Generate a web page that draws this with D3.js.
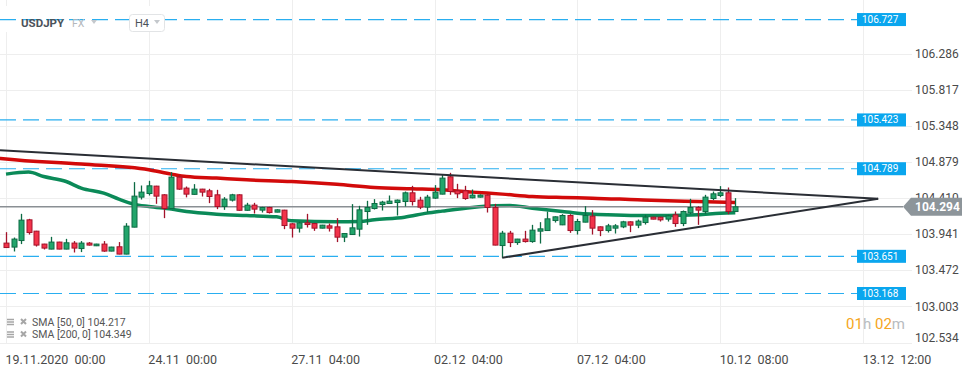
<!DOCTYPE html>
<html>
<head>
<meta charset="utf-8">
<script src="https://cdn.jsdelivr.net/npm/d3@7"></script>
<style>
  body { margin: 0; background: #fff; }
  svg { display: block; font-family: Roboto, "Noto Sans", sans-serif; }
</style>
</head>
<body>
<div id="chart"></div>
<script>
// USDJPY H4 candles, 19.11.2020 -> 10.12.2020
var opens = [
  103.823,103.771,103.856,104.125,103.978,103.810,103.745,103.836,103.745,103.823,
  103.752,103.823,103.788,103.810,103.719,103.775,103.680,104.030,104.420,104.467,
  104.563,104.450,104.272,104.680,104.537,104.456,104.524,104.502,104.450,104.298,
  104.381,104.450,104.249,104.316,104.251,104.285,104.225,104.251,104.073,104.017,
  104.086,104.077,104.017,104.047,104.034,103.900,103.934,104.004,104.233,104.272,
  104.324,104.337,104.350,104.363,104.476,104.381,104.290,104.407,104.459,104.684,
  104.502,104.502,104.411,104.420,104.446,104.285,103.791,103.952,103.830,103.875,
  103.843,103.978,103.986,104.116,104.060,104.181,103.986,104.095,104.173,104.034,
  103.986,104.017,104.034,104.099,104.056,104.090,104.160,104.160,104.134,104.190,
  104.077,104.216,104.285,104.233,104.402,104.441,104.476,104.233];
var highs = [
  103.965,103.895,104.203,104.138,103.982,103.814,103.904,103.840,103.878,103.849,
  103.849,103.836,103.814,103.849,103.775,103.836,104.082,104.615,104.571,104.632,
  104.567,104.459,104.745,104.710,104.558,104.589,104.528,104.528,104.515,104.420,
  104.463,104.456,104.346,104.346,104.294,104.294,104.262,104.255,104.082,104.099,
  104.203,104.086,104.060,104.077,104.147,103.952,104.329,104.307,104.372,104.394,
  104.372,104.441,104.389,104.493,104.567,104.424,104.450,104.576,104.714,104.736,
  104.593,104.567,104.519,104.456,104.456,104.333,103.982,103.982,103.878,103.982,
  104.060,104.095,104.233,104.171,104.199,104.199,104.138,104.303,104.251,104.040,
  104.073,104.069,104.112,104.106,104.129,104.190,104.164,104.164,104.190,104.233,
  104.246,104.398,104.303,104.450,104.493,104.563,104.545,104.407];
var lows = [
  103.762,103.714,103.810,103.934,103.778,103.740,103.742,103.742,103.742,103.701,
  103.706,103.791,103.784,103.710,103.716,103.677,103.677,104.028,104.389,104.441,
  104.333,104.147,104.268,104.515,104.417,104.450,104.428,104.342,104.264,104.255,
  104.363,104.242,104.242,104.207,104.220,104.207,104.223,104.004,103.895,103.960,
  104.025,103.982,104.014,103.973,103.836,103.836,103.930,103.908,104.060,104.259,
  104.246,104.333,104.181,104.298,104.311,104.264,104.220,104.398,104.456,104.450,
  104.407,104.385,104.404,104.415,104.220,103.794,103.632,103.771,103.800,103.830,
  103.827,103.817,103.982,104.090,104.056,103.956,103.934,104.093,103.934,103.913,
  103.960,103.947,104.017,103.965,104.017,104.064,104.132,104.103,104.103,104.034,
  104.043,104.199,104.060,104.199,104.381,104.420,104.199,104.229];
var closes = [
  103.765,103.875,104.121,103.960,103.797,103.758,103.836,103.745,103.827,103.758,
  103.823,103.797,103.810,103.719,103.771,103.680,104.043,104.433,104.485,104.567,
  104.433,104.272,104.680,104.524,104.459,104.524,104.485,104.428,104.298,104.394,
  104.450,104.249,104.316,104.264,104.285,104.220,104.255,104.051,104.017,104.086,
  104.064,104.017,104.056,104.017,103.900,103.947,104.021,104.255,104.285,104.337,
  104.355,104.368,104.381,104.476,104.363,104.290,104.420,104.485,104.667,104.493,
  104.463,104.402,104.446,104.446,104.285,103.797,103.952,103.830,103.875,103.843,
  103.991,104.008,104.138,104.164,104.181,103.986,104.103,104.181,104.017,103.986,
  104.047,104.047,104.099,104.056,104.108,104.160,104.134,104.125,104.177,104.077,
  104.233,104.285,104.251,104.420,104.463,104.476,104.233,104.294];

// moving averages (bar index, value)
var sma50Idx = [0,3,5,8,10,13,15,17,19,22,24,28,32,36,38,44,47,49,53,56,58,62,65,67,70,74,76,80,84,88,92,95,97];
var sma50Val = [104.719,104.745,104.688,104.623,104.537,104.472,104.394,104.329,104.298,104.264,104.233,104.199,
  104.181,104.164,104.112,104.099,104.103,104.125,104.160,104.212,104.238,104.285,104.307,104.311,104.277,
  104.233,104.212,104.190,104.181,104.181,104.190,104.212,104.217];
var sma200Idx = [-1,0,10,19,22,24,28,32,38,44,49,54,58,62,66,70,74,78,84,88,92,97];
var sma200Val = [104.925,104.914,104.849,104.775,104.719,104.688,104.667,104.645,104.623,104.586,104.545,
  104.528,104.515,104.485,104.459,104.428,104.415,104.407,104.385,104.372,104.363,104.349];

// drawn trendlines (bar index, price)
var trendUpper = [[-0.8, 105.028], [116, 104.398]];
var trendLower = [[66, 103.632], [116, 104.398]];

var levels = [106.727, 105.423, 104.789, 103.651, 103.168];
var lastPrice = 104.294;
var yTicks = [106.286, 105.817, 105.348, 104.879, 104.410, 103.941, 103.472, 103.003, 102.534];
var xTickIdx = [0, 19, 38, 57, 76, 95, 114];
var xTickLabels = ["19.11.2020  00:00", "24.11  00:00", "27.11  04:00", "02.12  04:00", "07.12  04:00", "10.12  08:00", "13.12  12:00"];

var svgWidth = 974;
var svgHeight = 368;
var plotRight = 906;
var plotBottom = 343;

var svg = d3.select("#chart")
  .append("svg")
  .attr("width", svgWidth)
  .attr("height", svgHeight);

var x = d3.scaleLinear().domain([-0.8, 119.7]).range([0, plotRight]);
var y = d3.scaleLinear().domain([102.534, 106.286]).range([342.3, 53.5]);

// grid
svg.append("g").selectAll("line")
  .data(yTicks.slice(0, -1))
  .enter().append("line")
  .attr("x1", 0).attr("x2", 912)
  .attr("y1", d => Math.round(y(d)) + 0.5).attr("y2", d => Math.round(y(d)) + 0.5)
  .attr("stroke", "#eeeeee");
svg.append("line")
  .attr("x1", 0).attr("x2", 912).attr("y1", plotBottom + 0.5).attr("y2", plotBottom + 0.5)
  .attr("stroke", "#eeeeee");
svg.append("g").selectAll("line")
  .data(xTickIdx)
  .enter().append("line")
  .attr("x1", d => Math.round(x(d)) + 0.5).attr("x2", d => Math.round(x(d)) + 0.5)
  .attr("y1", 0).attr("y2", plotBottom)
  .attr("stroke", "#eeeeee");

// header background
svg.append("rect").attr("x", 0).attr("y", 6).attr("width", 172).attr("height", 26).attr("fill", "#fff");

// horizontal levels
svg.append("g").selectAll("line")
  .data(levels)
  .enter().append("line")
  .attr("x1", 0).attr("x2", 857)
  .attr("y1", d => y(d)).attr("y2", d => y(d))
  .attr("stroke", "#29aef0")
  .attr("stroke-width", 1.2)
  .attr("stroke-dasharray", "16,7");

// moving averages
var smaLine = d3.line()
  .x(d => x(d[0]))
  .y(d => y(d[1]))
  .curve(d3.curveMonotoneX);

svg.append("path")
  .datum(sma200Idx.map((d, i) => [d, sma200Val[i]]))
  .attr("d", smaLine)
  .attr("fill", "none")
  .attr("stroke", "#d20a0a")
  .attr("stroke-width", 3.5);

svg.append("path")
  .datum(sma50Idx.map((d, i) => [d, sma50Val[i]]))
  .attr("d", smaLine)
  .attr("fill", "none")
  .attr("stroke", "#0b8a58")
  .attr("stroke-width", 3.5);

// last price line
svg.append("line")
  .attr("x1", 0).attr("x2", 903)
  .attr("y1", y(lastPrice)).attr("y2", y(lastPrice))
  .attr("stroke", "#8a8f94")
  .attr("stroke-width", 1.5);

// candles
var candles = svg.append("g").selectAll("g")
  .data(opens.map((o, i) => ({ i: i, o: o, h: highs[i], l: lows[i], c: closes[i] })))
  .enter().append("g");

candles.append("line")
  .attr("x1", d => Math.round(x(d.i)) + 0.5).attr("x2", d => Math.round(x(d.i)) + 0.5)
  .attr("y1", d => y(d.h)).attr("y2", d => y(d.l))
  .attr("stroke", d => d.c >= d.o ? "#0d6b44" : "#a3132a")
  .attr("stroke-width", 1.3);

candles.append("rect")
  .attr("x", d => Math.round(x(d.i)) - 2)
  .attr("y", d => y(Math.max(d.o, d.c)))
  .attr("width", 5)
  .attr("height", d => Math.max(1, Math.abs(y(d.o) - y(d.c))))
  .attr("fill", d => d.c >= d.o ? "#22a56b" : "#f2334a")
  .attr("stroke", d => d.c >= d.o ? "#0d6b44" : "#a3132a")
  .attr("stroke-width", 1);

// trendlines
[trendUpper, trendLower].forEach(function(t) {
  svg.append("line")
    .attr("x1", x(t[0][0])).attr("y1", y(t[0][1]))
    .attr("x2", x(t[1][0])).attr("y2", y(t[1][1]))
    .attr("stroke", "#2a2e35")
    .attr("stroke-width", 2);
});

// right axis
var rightAxis = d3.axisRight(y)
  .tickValues(yTicks)
  .tickSize(0)
  .tickPadding(0)
  .tickFormat(d3.format(".3f"));
var yAxisG = svg.append("g")
  .attr("transform", "translate(915,0)")
  .call(rightAxis);
yAxisG.select(".domain").remove();
yAxisG.selectAll("text")
  .attr("font-size", 12)
  .attr("font-family", "Roboto, sans-serif")
  .attr("fill", "#4a4a4a");
yAxisG.selectAll(".tick").filter(d => d === 102.534).select("text").attr("y", -5);

// bottom axis
var bottomAxis = d3.axisBottom(x)
  .tickValues(xTickIdx)
  .tickSize(0)
  .tickPadding(0)
  .tickFormat((d, i) => xTickLabels[i]);
var xAxisG = svg.append("g")
  .attr("transform", `translate(0, ${plotBottom})`)
  .call(bottomAxis);
xAxisG.select(".domain").remove();
xAxisG.selectAll("text")
  .attr("text-anchor", "start")
  .attr("x", -1)
  .attr("y", 12)
  .attr("font-size", 12.5)
  .attr("font-family", "Roboto, sans-serif")
  .attr("fill", "#4a4a4a")
  .style("white-space", "pre");

// level labels
var lvl = svg.append("g").selectAll("g")
  .data(levels)
  .enter().append("g");
lvl.append("rect")
  .attr("x", 857).attr("y", d => y(d) - 6.5)
  .attr("width", 49).attr("height", 13)
  .attr("fill", "#0aa6ee");
lvl.append("text")
  .attr("x", 862).attr("y", d => y(d))
  .attr("dy", "0.35em")
  .attr("font-size", 10)
  .attr("fill", "#fff")
  .text(d => d3.format(".3f")(d));

// last price label, drawn over the 104.410 tick as in the platform
var ly = y(lastPrice);
svg.append("path")
  .attr("d", `M903,${ly} L911,${ly - 9} L962,${ly - 9} L962,${ly + 9} L911,${ly + 9} Z`)
  .attr("fill", "#8d959a");
svg.append("text")
  .attr("x", 915).attr("y", ly)
  .attr("dy", "0.36em")
  .attr("font-size", 12)
  .attr("font-weight", "bold")
  .attr("fill", "#fff")
  .text(d3.format(".3f")(lastPrice));

// header
svg.append("text")
  .attr("x", 21).attr("y", 27)
  .attr("font-size", 11.5).attr("font-weight", "bold")
  .attr("fill", "#4b525a")
  .text("USDJPY");
svg.append("text")
  .attr("x", 72).attr("y", 27)
  .attr("font-size", 10.5)
  .attr("fill", "#b4b8bc")
  .text("FX");
svg.append("path").attr("d", "M91,20 L97,20 L94,24 Z").attr("fill", "#c4c8cc");
svg.append("rect")
  .attr("x", 129.5).attr("y", 14.5).attr("width", 35).attr("height", 17).attr("rx", 3)
  .attr("fill", "#fff").attr("stroke", "#e2e4e6");
svg.append("text")
  .attr("x", 135).attr("y", 27)
  .attr("font-size", 11)
  .attr("fill", "#4b525a")
  .text("H4");
svg.append("path").attr("d", "M154,20 L160,20 L157,24 Z").attr("fill", "#c4c8cc");

// legend
var legendRows = ["SMA [50, 0] 104.217", "SMA [200, 0] 104.349"];
legendRows.forEach(function(t, i) {
  var cy = 322 + i * 12.5;
  [-2.5, 0, 2.5].forEach(function(o) {
    svg.append("line").attr("x1", 7).attr("x2", 14).attr("y1", cy + o).attr("y2", cy + o)
      .attr("stroke", "#a6a6a6").attr("stroke-width", 1.5);
  });
  svg.append("path")
    .attr("d", `M21,${cy - 3} L26,${cy + 2} M26,${cy - 3} L21,${cy + 2}`)
    .attr("stroke", "#a6a6a6").attr("stroke-width", 2);
  svg.append("text")
    .attr("x", 32).attr("y", cy + 3.5)
    .attr("font-size", 10.5)
    .attr("fill", "#555")
    .text(t);
});

// candle countdown
var cd = svg.append("text")
  .attr("x", 905).attr("y", 329)
  .attr("text-anchor", "end")
  .attr("font-size", 15)
  .style("white-space", "pre");
cd.append("tspan").attr("fill", "#f5a623").text("01");
cd.append("tspan").attr("fill", "#b8bcc0").text("h ");
cd.append("tspan").attr("fill", "#f5a623").text("02");
cd.append("tspan").attr("fill", "#b8bcc0").text("m");
</script>
</body>
</html>
